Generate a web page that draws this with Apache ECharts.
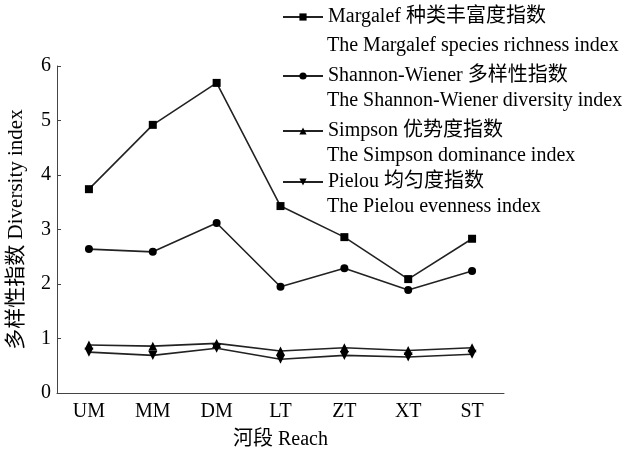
<!DOCTYPE html>
<html>
<head>
<meta charset="utf-8">
<script src="https://cdn.jsdelivr.net/npm/echarts@6/dist/echarts.min.js"></script>
<style>
  html, body { margin: 0; padding: 0; background: #fff; }
  #chart { width: 627px; height: 451px; }
</style>
</head>
<body>
<div id="chart"></div>
<script>
// 河段
var reaches = ['UM', 'MM', 'DM', 'LT', 'ZT', 'XT', 'ST'];

// 各指数
var margalef = [3.74, 4.92, 5.69, 3.43, 2.86, 2.09, 2.83];
var shannon = [2.64, 2.59, 3.12, 1.95, 2.29, 1.89, 2.24];
var simpson = [0.88, 0.86, 0.91, 0.77, 0.83, 0.78, 0.83];
var pielou = [0.75, 0.69, 0.82, 0.62, 0.69, 0.66, 0.71];

var cnNames = ['Margalef 种类丰富度指数', 'Shannon-Wiener 多样性指数', 'Simpson 优势度指数', 'Pielou 均匀度指数'];
var enNames = ['The Margalef species richness index', 'The Shannon-Wiener diversity index',
  'The Simpson dominance index', 'The Pielou evenness index'];
var yTicks = [0, 1, 2, 3, 4, 5, 6];

var font = '"Liberation Serif", "Noto Sans CJK SC", serif';
var symbols = ['rect', 'circle', 'triangle', 'triangle'];
var rotates = [0, 0, 0, 180];
var sizes = [8, 8, 9, 9];
var allData = [margalef, shannon, simpson, pielou];

// 图例行中心位置
var legendMid = [17, 76, 131, 182];
var enMid = [47, 102, 157, 208];

var myChart = echarts.init(document.getElementById('chart'));

var option = {
  animation: false,
  backgroundColor: '#fff',
  textStyle: { fontFamily: font, color: '#000' },
  grid: { left: 57, right: 123, top: 66, bottom: 58, outerBoundsMode: 'none', containLabel: false },
  legend: cnNames.map(function (n, i) {
    return {
      data: [n],
      left: 282,
      top: legendMid[i] - 11,
      itemWidth: 40,
      itemHeight: 9,
      padding: 0,
      textStyle: { fontFamily: font, fontSize: 20, color: '#000', lineHeight: 22 }
    };
  }),
  graphic: enNames.map(function (t, i) {
    return {
      type: 'text',
      left: 327,
      top: enMid[i] - 11,
      style: { text: t, font: '20px ' + font, fill: '#000' }
    };
  }),
  xAxis: {
    type: 'category',
    data: reaches,
    name: '河段 Reach',
    nameLocation: 'middle',
    nameGap: 37,
    nameTextStyle: { fontFamily: font, fontSize: 20, color: '#000' },
    axisLine: { lineStyle: { color: '#444', width: 1 } },
    axisTick: { inside: true, alignWithLabel: true, length: 4, lineStyle: { color: '#444' } },
    axisLabel: { fontFamily: font, fontSize: 20, color: '#000', margin: 9 },
    splitLine: { show: false }
  },
  yAxis: {
    type: 'value',
    min: 0,
    max: 6,
    interval: 1,
    name: '多样性指数 Diversity index',
    nameLocation: 'middle',
    nameGap: 30,
    nameTextStyle: { fontFamily: font, fontSize: 21, color: '#000' },
    axisLine: { show: true, lineStyle: { color: '#444', width: 1 } },
    axisTick: { show: true, inside: true, length: 4, lineStyle: { color: '#444' } },
    axisLabel: {
      fontFamily: font, fontSize: 20, color: '#000', margin: 6, padding: [3, 0, 0, 0],
      formatter: function (v) { return yTicks.indexOf(v) >= 0 ? String(v) : ''; }
    },
    splitLine: { show: false }
  },
  series: allData.map(function (d, i) {
    return {
      name: cnNames[i],
      type: 'line',
      data: d,
      symbol: symbols[i],
      symbolSize: sizes[i],
      symbolRotate: rotates[i],
      showAllSymbol: true,
      lineStyle: { color: '#222', width: 1.6 },
      itemStyle: { color: '#000' },
      emphasis: { disabled: true }
    };
  })
};

myChart.setOption(option);
</script>
</body>
</html>
